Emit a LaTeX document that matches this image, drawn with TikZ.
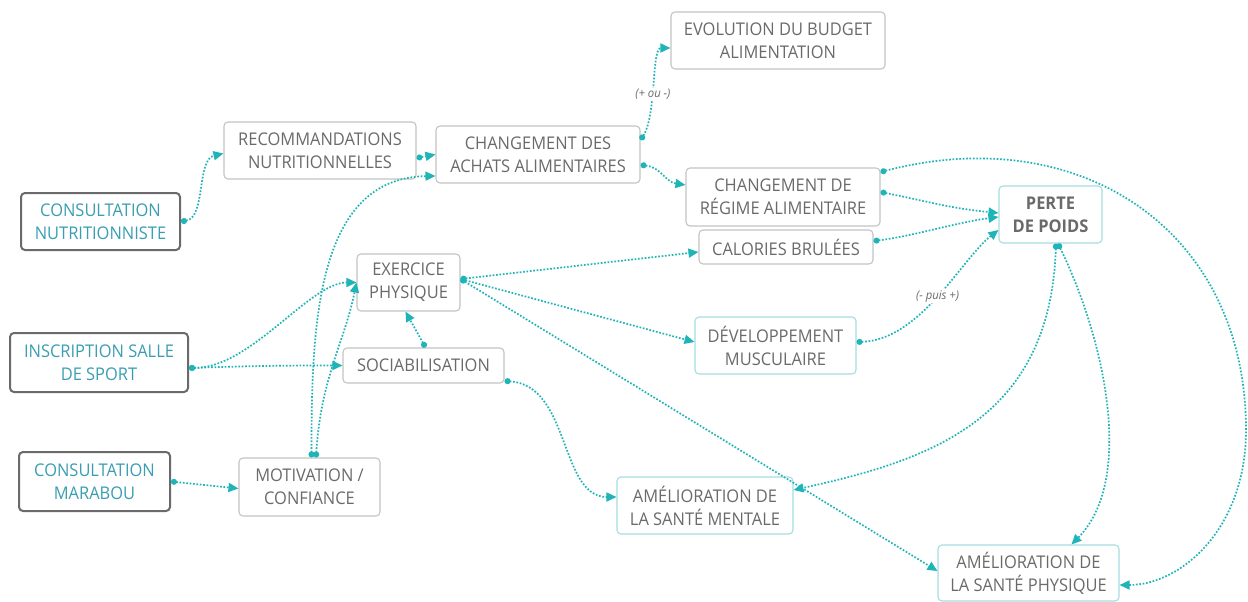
\documentclass[tikz,border=0pt]{standalone}
\usepackage{fontspec}
\setmainfont{Open Sans}[FakeStretch=0.94]
\usetikzlibrary{arrows.meta}
\definecolor{teal1}{HTML}{1FB5B8}
\definecolor{tealtxt}{HTML}{3A9EB2}
\definecolor{greytxt}{HTML}{6A6A6A}
\definecolor{lightbd}{HTML}{C4C4C4}
\definecolor{darkbd}{HTML}{6A6A6A}
\definecolor{tealbd}{HTML}{A6DCE3}
\tikzset{
  box/.style={draw=lightbd, line width=1.1pt, rounded corners=4pt, text=greytxt, align=center,
    font=\fontsize{17.5}{23}\selectfont, inner sep=0pt},
  srcbox/.style={box, draw=darkbd, line width=2pt, text=tealtxt},
  resbox/.style={box, draw=tealbd},
  link/.style={draw=teal1, line width=1.7pt, dash pattern=on 1.7pt off 1.7pt,
    {Circle[length=6pt]}-{Triangle[length=10pt,width=9pt]}},
  lbl/.style={fill=white, text=greytxt, font=\fontsize{12}{14}\selectfont\itshape, inner sep=1pt}
}
\begin{document}
\begin{tikzpicture}[x=1pt,y=1pt]
\useasboundingbox[fill=white] (0,0) rectangle (1248,-602);

\node[srcbox, minimum width=159, minimum height=57] (CN) at (100.5,-221.5) {CONSULTATION\\NUTRITIONNISTE};
\node[box, minimum width=192, minimum height=57] (RN) at (320,-150.5) {RECOMMANDATIONS\\NUTRITIONNELLES};
\node[box, minimum width=204, minimum height=57] (CA) at (538,-154.5) {CHANGEMENT DES\\ACHATS ALIMENTAIRES};
\node[box, minimum width=214, minimum height=57] (EV) at (778,-40.5) {EVOLUTION DU BUDGET\\ALIMENTATION};
\node[box, minimum width=194, minimum height=58] (CR) at (783,-197) {CHANGEMENT DE\\RÉGIME ALIMENTAIRE};
\node[box, minimum width=174, minimum height=34] (CB) at (786,-247) {CALORIES BRULÉES};
\node[resbox, minimum width=103, minimum height=57, font=\fontsize{17.5}{23}\selectfont\bfseries] (PP) at (1050.5,-214.5) {PERTE\\DE POIDS};
\node[box, minimum width=103, minimum height=57] (EX) at (408.5,-282.5) {EXERCICE\\PHYSIQUE};
\node[resbox, minimum width=161, minimum height=57] (DM) at (775.5,-345.5) {DÉVELOPPEMENT\\MUSCULAIRE};
\node[srcbox, minimum width=178, minimum height=59] (IS) at (99,-362.5) {INSCRIPTION SALLE\\DE SPORT};
\node[box, minimum width=161, minimum height=35] (SO) at (423.5,-365.5) {SOCIABILISATION};
\node[srcbox, minimum width=151, minimum height=59] (CMa) at (94.5,-481.5) {CONSULTATION\\MARABOU};
\node[box, minimum width=141, minimum height=58] (MO) at (309.5,-487) {MOTIVATION /\\CONFIANCE};
\node[resbox, minimum width=176, minimum height=57] (ASM) at (705,-505.5) {AMÉLIORATION DE\\LA SANTÉ MENTALE};
\node[resbox, minimum width=181, minimum height=56] (ASP) at (1028.5,-573) {AMÉLIORATION DE\\LA SANTÉ PHYSIQUE};

% connectors
\draw[link] (CN.east) .. controls +(25,4) and +(-27,-6) .. ([yshift=-3pt]RN.west);
\draw[link] ([yshift=-7.5pt]RN.east) -- (CA.west);
\draw[link] ([xshift=2pt]MO.north) .. controls +(0,130) and +(-120,-2) .. ([yshift=-21.5pt]CA.west);
\draw[link] ([xshift=6.5pt]MO.north) .. controls +(5,80) and +(-12,-60) .. (EX.west);
\draw[link] ([yshift=-5.5pt]IS.east) .. controls +(62,0) and +(-47,0) .. (EX.west);
\draw[link] ([yshift=-5.5pt]IS.east) .. controls +(60,2) and +(-60,0) .. (SO.west);
\draw[link] ([xshift=2pt]SO.north) -- ([xshift=-3pt]EX.south);
\draw[link] (CMa.east) -- ([yshift=-1.5pt]MO.west);
\draw[link] ([yshift=14.5pt]CA.east) .. controls +(16,25) and +(-19,0) .. ([yshift=-7.5pt]EV.west)
  node[lbl, pos=0.42] {(+ ou -)};
\draw[link] ([yshift=-10.5pt]CA.east) .. controls +(20,-2) and +(-20,3) .. ([yshift=12pt]CR.west);
\draw[link] ([yshift=25pt]CR.east) .. controls (1080,-120) and (1246,-230) .. (1246,-430)
  .. controls (1246,-530) and (1180,-585) .. ([yshift=-12pt]ASP.east);
\draw[link] ([yshift=5pt]CR.east) .. controls +(50,-10) and +(-50,5) .. ([yshift=1.5pt]PP.west);
\draw[link] ([yshift=6pt]CB.east) .. controls +(40,5) and +(-40,-5) .. ([yshift=-2.5pt]PP.west);
\draw[link] ([yshift=3.5pt]DM.east) .. controls +(64,2) and +(-37,-29) .. ([yshift=-15.5pt]PP.west)
  node[lbl, pos=0.5] {(- puis +)};
\draw[link] ([yshift=3.5pt]EX.east) -- ([yshift=-5pt]CB.west);
\draw[link] ([yshift=3.5pt]EX.east) -- ([yshift=3.5pt]DM.west);
\draw[link] ([yshift=3.5pt]EX.east) -- ([yshift=2pt]ASP.west);
\draw[link] ([yshift=-15.5pt]SO.east) .. controls +(66,-4) and +(-57,0) .. ([yshift=8.5pt]ASM.west);
\draw[link] ([xshift=5.5pt]PP.south) .. controls (1050,-420) and (930,-460) .. ([yshift=15.5pt]ASM.east);
\draw[link] ([xshift=7.5pt]PP.south) .. controls (1105,-340) and (1135,-480) .. ([xshift=43pt]ASP.north);
\end{tikzpicture}
\end{document}
